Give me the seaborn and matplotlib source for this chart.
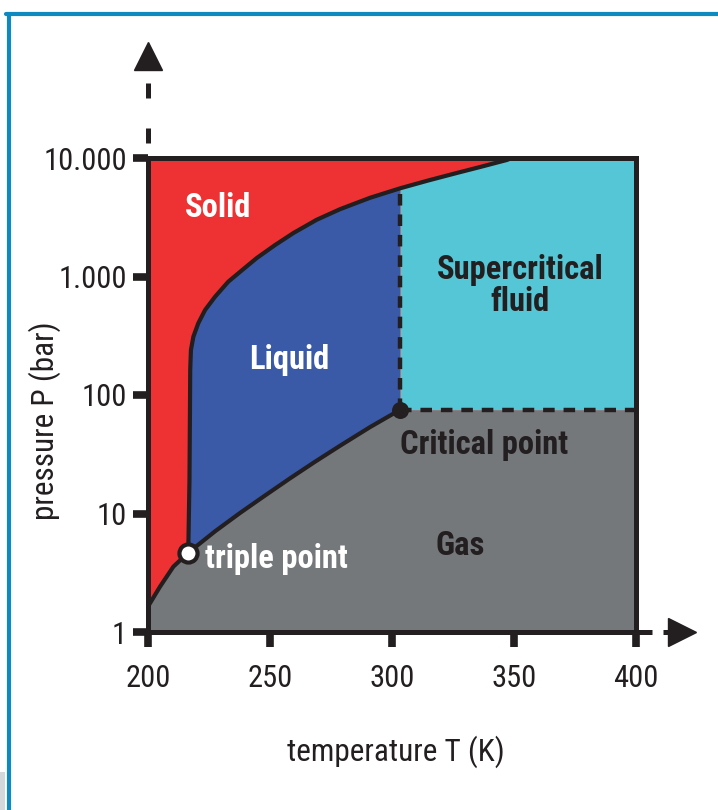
import pandas as pd
import matplotlib.pyplot as plt
import seaborn as sns
from matplotlib.lines import Line2D
from matplotlib.patches import Rectangle

# Phase diagram of CO2 (T in K, P in bar)
sub_T = [200.0, 204.9, 210.4, 216.5]
sub_P = [1.64, 2.41, 3.56, 4.67]

vap_T = [216.5, 227.5, 237.7, 248.0, 258.2, 268.4, 278.7, 291.0, 303.3]
vap_P = [4.67, 7.08, 10.1, 14.2, 19.8, 27.3, 37.3, 53.6, 75.0]

melt_T = [216.5, 217.0, 217.2, 217.3, 217.6, 218.6, 220.6, 223.4, 227.5, 232.9,
          238.4, 244.6, 252.1, 259.6, 269.1, 278.7, 291.0, 303.3, 314.8, 326.5,
          336.1, 347.0, 349.2]
melt_P = [4.67, 19.2, 74.7, 162.6, 239.8, 310.6, 402.8, 521.7, 675.6, 904,
          1124, 1433, 1844, 2328, 3009, 3698, 4616, 5548, 6457, 7470,
          8395, 9616, 10000]

triple_T, triple_P = 216.5, 4.67
crit_T, crit_P = 303.3, 75.0

t_ticks = [200, 250, 300, 350, 400]
p_ticks = [1, 10, 100, 1000, 10000]
p_labels = ['1', '10', '100', '1.000', '10.000']

# colours
red = '#EE3132'
blue = '#3A5AA7'
cyan = '#54C6D6'
gray = '#75787B'
ink = '#231F20'
frame_blue = '#0E8AC0'

sns.set_style("white")
plt.rcParams['font.family'] = ['Roboto Condensed', 'Liberation Sans Narrow',
                               'Roboto', 'DejaVu Sans']

fig = plt.figure(figsize=(7.18, 8.10), dpi=100)
ax = fig.add_axes([148 / 718, 1 - 632 / 810, 488 / 718, 474 / 810])
ax.set_facecolor(red)
ax.set_yscale('log')
ax.set_xlim(t_ticks[0], t_ticks[-1])
ax.set_ylim(p_ticks[0], p_ticks[-1])

# regions
gas_T = sub_T + vap_T[1:] + [t_ticks[-1]]
gas_P = sub_P + vap_P[1:] + [crit_P]
ax.fill_between(gas_T, p_ticks[0], gas_P, color=gray, lw=0, zorder=1)

i_c = melt_T.index(crit_T)
liq_T = melt_T[:i_c + 1] + vap_T[::-1]
liq_P = melt_P[:i_c + 1] + vap_P[::-1]
ax.fill(liq_T, liq_P, color=blue, lw=0, zorder=1)

sc_T = melt_T[i_c:] + [t_ticks[-1]]
sc_P = melt_P[i_c:] + [p_ticks[-1]]
ax.fill_between(sc_T, crit_P, sc_P, color=cyan, lw=0, zorder=1)

# phase boundaries
for T, P in [(sub_T, sub_P), (vap_T, vap_P), (melt_T, melt_P)]:
    df = pd.DataFrame({'T': T, 'P': P})
    sns.lineplot(data=df, x='T', y='P', sort=False, estimator=None,
                 color=ink, lw=3, ax=ax, zorder=3)

ax.plot([crit_T, crit_T], [crit_P, melt_P[i_c]], color=ink, lw=3.2,
        dashes=(2.6, 2.0), zorder=3)
ax.plot([crit_T, t_ticks[-1]], [crit_P, crit_P], color=ink, lw=3.2,
        dashes=(2.6, 2.0), zorder=3)

sns.scatterplot(x=[triple_T], y=[triple_P], s=170, color='white',
                edgecolor=ink, linewidth=3, ax=ax, zorder=5)
sns.scatterplot(x=[crit_T], y=[crit_P], s=150, color=ink,
                edgecolor=ink, linewidth=0, ax=ax, zorder=5)

# labels inside
bold = dict(fontsize=23.5, fontweight='bold', transform=ax.transAxes,
            ha='center', va='center', zorder=6)
ax.text(0.144, 0.894, 'Solid', color='white', **bold)
ax.text(0.289, 0.574, 'Liquid', color='white', **bold)
ax.text(0.762, 0.73, 'Supercritical\nfluid', color=ink, linespacing=1.0, **bold)
ax.text(0.689, 0.395, 'Critical point', color=ink, **bold)
ax.text(0.639, 0.182, 'Gas', color=ink, **bold)
ax.text(0.116, 0.154, 'triple point', color='white',
        **{**bold, 'ha': 'left'})

# axes styling
for s in ax.spines.values():
    s.set_visible(True)
    s.set_color(ink)
    s.set_linewidth(3.6)
    s.set_zorder(4)
ax.set_xticks(t_ticks)
ax.set_xticklabels([str(t) for t in t_ticks])
ax.set_yticks(p_ticks)
ax.set_yticklabels(p_labels)
ax.minorticks_off()
ax.tick_params(axis='both', which='major', direction='out', length=11,
               width=5.5, color=ink, labelsize=22, labelcolor=ink,
               bottom=True, left=True)
ax.tick_params(axis='x', pad=12)
ax.tick_params(axis='y', pad=4)

ax.set_xlabel('temperature T (K)', fontsize=22.5, color=ink)
ax.xaxis.set_label_coords(0.508, -0.253)
ax.xaxis.label.set_va('center')
ax.set_ylabel('pressure P (bar)', fontsize=22.5, color=ink)
ax.yaxis.set_label_coords(-0.211, 0.445)
ax.yaxis.label.set_va('center')

# dashed axis arrows
ax.plot([1.0, 1.075], [0, 0], transform=ax.transAxes, color=ink, lw=3.6,
        dashes=(3.2, 2.2), clip_on=False, zorder=4)
ax.plot([1.095], [0], transform=ax.transAxes, marker='>', ms=20, color=ink,
        clip_on=False, zorder=4)
ax.plot([0, 0], [1.0, 1.19], transform=ax.transAxes, color=ink, lw=3.6,
        dashes=(0, 3.0, 3.0, 3.0), clip_on=False, zorder=4)
ax.plot([0], [1.216], transform=ax.transAxes, marker='^', ms=20, color=ink,
        clip_on=False, zorder=4)

# blue frame round the figure
fig.add_artist(Line2D([6 / 718, 1], [1 - 14 / 810] * 2, transform=fig.transFigure,
                      color=frame_blue, lw=3))
fig.add_artist(Line2D([8.5 / 718] * 2, [0, 1 - 14 / 810], transform=fig.transFigure,
                      color=frame_blue, lw=3))
fig.add_artist(Rectangle((0, 0), 5 / 718, 38 / 810, transform=fig.transFigure,
                         color='#D3D8DB', lw=0))

fig.savefig('out.png', dpi=100)
